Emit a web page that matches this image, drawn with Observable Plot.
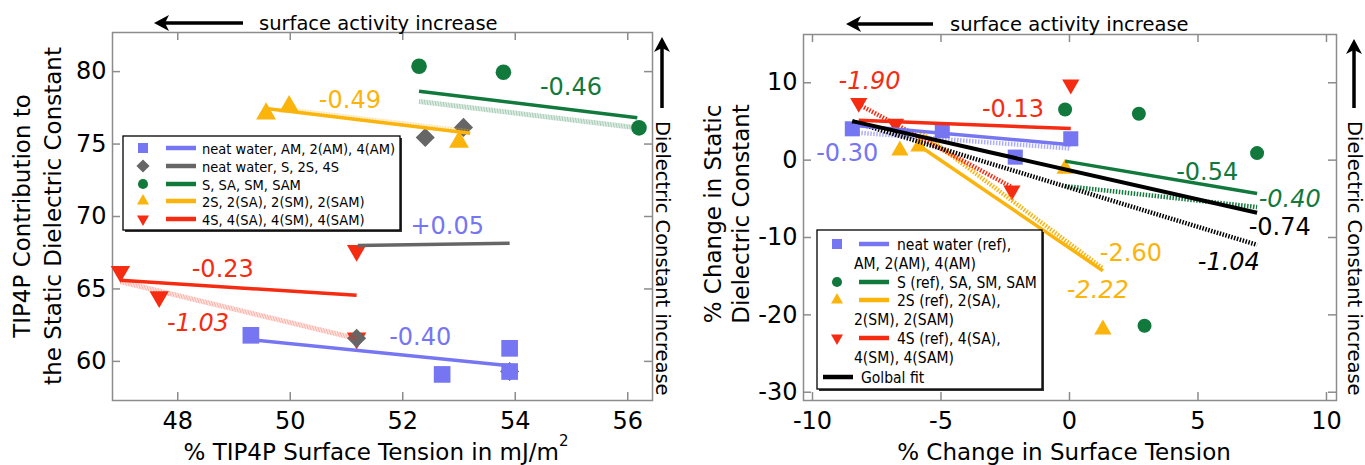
<!DOCTYPE html>
<html><head><meta charset="utf-8">
<script src="https://cdn.jsdelivr.net/npm/d3@7"></script>
<script src="https://cdn.jsdelivr.net/npm/@observablehq/plot@0.6"></script>
<style>
body{margin:0;background:#fff;}
#wrap{display:flex;width:1365px;height:465px;overflow:hidden;}
</style></head><body><div id="wrap"></div>
<script>
// ---------- DATA ----------
const xTicksL = [48, 50, 52, 54, 56];
const yTicksL = [60, 65, 70, 75, 80];
const xTicksR = [-10, -5, 0, 5, 10];
const yTicksR = [-30, -20, -10, 0, 10];

// Left panel points [surface tension, dielectric contribution]
const L_neatAM = [[49.3, 61.8], [52.7, 59.1], [53.9, 60.9], [53.9, 59.3]];
const L_neatS  = [[52.4, 75.45], [53.08, 76.15], [51.18, 61.6], [53.9, 59.3]];
const L_S      = [[52.29, 80.37], [53.79, 79.96], [56.2, 76.12]];
const L_2S     = [[49.57, 77.1], [49.98, 77.6], [53.0, 75.15]];
const L_4S     = [[46.98, 66.2], [47.67, 64.45], [51.18, 67.65], [51.18, 61.6]];

// Left panel fits [series, kind, x1, y1, x2, y2]
const L_fits = [
  ["2S", "faded", 49.98, 77.35, 53.2, 75.85],
  ["S", "faded", 52.29, 77.94, 56.17, 76.12],
  ["4S", "faded", 46.98, 65.5, 51.18, 61.57],
  ["neatAM", "solid", 49.3, 61.5, 53.9, 59.7],
  ["neatS", "solid", 51.2, 68.0, 53.9, 68.15],
  ["S", "solid", 52.29, 78.65, 56.17, 76.81],
  ["2S", "solid", 49.57, 77.45, 53.2, 75.75],
  ["4S", "solid", 46.98, 65.6, 51.18, 64.56]
];

// Left slope labels [text, series, style, x, y]
const L_labels = [
  ["-0.49", "2S", "normal", 51.06, 78.04],
  ["-0.46", "S", "normal", 54.99, 78.93],
  ["+0.05", "neatAM", "normal", 52.79, 69.35],
  ["-0.23", "4S", "normal", 48.8, 66.34],
  ["-1.03", "4S", "italic", 48.36, 62.6],
  ["-0.40", "neatAM", "normal", 52.31, 61.64]
];

// Right panel points [% change surface tension, % change dielectric]
const R_neat = [[-8.45, 4.05], [-4.95, 3.8], [-2.11, 0.39], [0.05, 2.76]];
const R_S    = [[-0.17, 6.55], [2.70, 5.99], [7.30, 0.91], [2.92, -21.4]];
const R_2S   = [[-6.6, 1.25], [-5.86, 1.75], [-0.17, -1.12], [1.30, -21.9]];
const R_4S   = [[-8.2, 7.4], [-6.77, 4.7], [-2.24, -3.92], [0.05, 9.78]];

// Right panel fits [series, kind, x1, y1, x2, y2]
const R_fits = [
  ["neat", "hatched", -8.45, 3.6, 0.05, 1.5],
  ["2S", "hatched", -5.8, 3.6, 1.3, -14.0],
  ["4S", "hatched", -8.2, 7.2, -2.24, -3.5],
  ["S", "hatched", -0.17, -3.35, 7.3, -6.07],
  ["all", "hatched", -8.45, 5.0, 7.3, -10.95],
  ["neat", "solid", -8.45, 4.5, 0.05, 2.0],
  ["4S", "solid", -8.2, 5.15, 0.05, 4.08],
  ["2S", "solid", -5.86, 1.9, 1.3, -14.3],
  ["S", "solid", -0.17, -0.13, 7.3, -4.3],
  ["all", "solid", -8.45, 5.04, 7.3, -6.8]
];

// Right slope labels [text, series, style, x, y]
const R_labels = [
  ["-1.90", "4S", "italic", -7.78, 10.2],
  ["-0.13", "4S", "normal", -2.2, 6.6],
  ["-0.30", "neat", "normal", -8.65, 0.9],
  ["-0.54", "S", "normal", 5.36, -1.55],
  ["-0.40", "S", "italic", 8.57, -5.12],
  ["-0.74", "all", "normal", 8.18, -8.74],
  ["-1.04", "all", "italic", 6.2, -13.2],
  ["-2.60", "2S", "normal", 2.39, -12.0],
  ["-2.22", "2S", "italic", 1.1, -16.85]
];

const L_legend = ["neat water, AM, 2(AM), 4(AM)", "neat water, S, 2S, 4S", "S, SA, SM, SAM",
                  "2S, 2(SA), 2(SM), 2(SAM)", "4S, 4(SA), 4(SM), 4(SAM)"];
const R_legend = [["neat water (ref),", "AM, 2(AM), 4(AM)"], ["S (ref), SA, SM, SAM"],
                  ["2S (ref), 2(SA),", "2(SM), 2(SAM)"], ["4S (ref), 4(SA),", "4(SM), 4(SAM)"], ["Golbal fit"]];

// ---------- STYLES ----------
const COL = {neatAM: "#7676f2", neat: "#7676f2", neatS: "#666666", S: "#12793d", "2S": "#fbb40c", "4S": "#f52c12", all: "#000000"};
const triDown = {draw(ctx, size) {
  const y = -Math.sqrt(size / (Math.sqrt(3) * 3));
  ctx.moveTo(0, -y * 2); ctx.lineTo(-Math.sqrt(3) * y, y); ctx.lineTo(Math.sqrt(3) * y, y); ctx.closePath();
}};
const H = 465;
const AX = "#8c8c8c";
const FONT = "DejaVu Sans";
const COND = "DejaVu Sans Condensed";

function panel(cfg) {
  const fw = cfg.width - cfg.ml - cfg.mr, fh = H - cfg.mt - cfg.mb;
  const tk = 8;
  return Plot.plot({
    width: cfg.width, height: H,
    marginLeft: cfg.ml, marginRight: cfg.mr, marginTop: cfg.mt, marginBottom: cfg.mb,
    style: {fontFamily: FONT, fontSize: "24px", background: "white", color: "black", overflow: "visible"},
    x: {domain: cfg.xDomain, ticks: cfg.xTicks, tickSize: 0, tickPadding: 11, label: null, tickFormat: d => String(d)},
    y: {domain: cfg.yDomain, ticks: cfg.yTicks, tickSize: 0, tickPadding: 6, label: null, tickFormat: d => String(d)},
    marks: [
      Plot.tickX(cfg.xTicks, {x: d => d, insetTop: fh - tk, stroke: AX, strokeWidth: 1.5}),
      Plot.tickX(cfg.xTicks, {x: d => d, insetBottom: fh - tk, stroke: AX, strokeWidth: 1.5}),
      Plot.tickY(cfg.yTicks, {y: d => d, insetRight: fw - tk, stroke: AX, strokeWidth: 1.5}),
      Plot.tickY(cfg.yTicks, {y: d => d, insetLeft: fw - tk, stroke: AX, strokeWidth: 1.5}),
      Plot.frame({stroke: AX, strokeWidth: 1.5}),
      ...cfg.marks
    ]
  });
}

function dots(data, symbol, r, key) {
  return Plot.dot(data, {x: d => d[0], y: d => d[1], symbol, r, fill: COL[key], stroke: "none"});
}
function fitMarks(fits) {
  return fits.map(f => {
    const base = {x1: d => d[2], y1: d => d[3], x2: d => d[4], y2: d => d[5], stroke: COL[f[0]], strokeLinecap: "butt"};
    if (f[1] === "solid") return Plot.link([f], {...base, strokeWidth: f[0] === "all" ? 4 : 3.5});
    if (f[1] === "faded") return Plot.link([f], {...base, strokeWidth: 5, strokeOpacity: 0.38, strokeDasharray: "1,0.6"});
    return Plot.link([f], {...base, strokeWidth: 4.5, strokeDasharray: "1.5,1.5", strokeOpacity: f[0] === "neat" ? 0.6 : 1});
  });
}
function labelMarks(labels) {
  return labels.map(l => Plot.text([l], {x: d => d[3], y: d => d[4], text: d => d[0], fill: COL[l[1]],
    fontSize: 24, fontStyle: l[2], fontFamily: FONT}));
}

// ---------- LEFT PANEL ----------
const left = panel({
  width: 680, ml: 112, mr: 28, mt: 32, mb: 65,
  xDomain: [46.84, 56.44], yDomain: [57.3, 82.7], xTicks: xTicksL, yTicks: yTicksL,
  marks: [
    dots(L_4S, triDown, 7.2, "4S"),
    dots(L_neatS, "diamond2", 8.6, "neatS"),
    dots(L_S, "circle", 7.8, "S"),
    dots(L_2S, "triangle", 7.4, "2S"),
    dots(L_neatAM, "square", 9.4, "neatAM"),
    ...fitMarks(L_fits),
    ...labelMarks(L_labels)
  ]
});

// ---------- RIGHT PANEL ----------
const right = panel({
  width: 685, ml: 123, mr: 29, mt: 34, mb: 65,
  xDomain: [-10.35, 10.39], yDomain: [-31.07, 16.24], xTicks: xTicksR, yTicks: yTicksR,
  marks: [
    dots(R_neat, "square", 8.5, "neat"),
    dots(R_S, "circle", 7, "S"),
    dots(R_2S, "triangle", 6.4, "2S"),
    dots(R_4S, triDown, 6.4, "4S"),
    ...fitMarks(R_fits),
    ...labelMarks(R_labels)
  ]
});

document.getElementById("wrap").append(left, right);

// ---------- DECORATIONS ----------
function hArrow(svg, xTail, xTip, y) {
  svg.append("line").attr("x1", xTail).attr("x2", xTip + 10).attr("y1", y).attr("y2", y)
    .attr("stroke", "#000").attr("stroke-width", 3.5);
  svg.append("path").attr("d", `M${xTip},${y} L${xTip + 15},${y - 8} L${xTip + 11},${y} L${xTip + 15},${y + 8} Z`).attr("fill", "#000");
}
function vArrow(svg, x, yTail, yTip) {
  svg.append("line").attr("x1", x).attr("x2", x).attr("y1", yTail).attr("y2", yTip + 10)
    .attr("stroke", "#000").attr("stroke-width", 3.5);
  svg.append("path").attr("d", `M${x},${yTip} L${x - 8},${yTip + 15} L${x},${yTip + 11} L${x + 8},${yTip + 15} Z`).attr("fill", "#000");
}
function txt(svg, s, x, y, opts = {}) {
  const t = svg.append("text").attr("x", x).attr("y", y).text(s)
    .attr("font-family", opts.family || FONT).attr("font-size", opts.size || 23)
    .attr("fill", opts.fill || "#000").attr("text-anchor", opts.anchor || "start")
    .attr("dominant-baseline", opts.baseline || "central");
  if (opts.rotate) t.attr("transform", `rotate(${opts.rotate},${x},${y})`);
  return t;
}
function decorate(svgEl, c) {
  const svg = d3.select(svgEl);
  hArrow(svg, c.arrowX2, c.arrowX1, c.arrowY);
  txt(svg, "surface activity increase", c.topTextX, c.arrowY, {size: 19.5});
  vArrow(svg, c.sideX, 108, c.sideTip);
  txt(svg, "Dielectric Constant increase", c.sideX, 121, {size: 19.5, rotate: 90});
  const xt = txt(svg, c.xTitle, c.xTitleX, 452, {anchor: "middle"});
  if (c.sup) xt.append("tspan").attr("dy", -11).attr("font-size", 15).text(c.sup);
  txt(svg, c.yTitle[0], c.yTitleX[0], c.yMid, {anchor: "middle", rotate: -90});
  txt(svg, c.yTitle[1], c.yTitleX[1], c.yMid, {anchor: "middle", rotate: -90});
}

decorate(left, {arrowX1: 154, arrowX2: 243, arrowY: 23, topTextX: 259, sideX: 662, sideTip: 37,
  xTitle: "% TIP4P Surface Tension in mJ/m", sup: "2", xTitleX: 376,
  yTitle: ["TIP4P Contribution to", "the Static Dielectric Constant"], yTitleX: [22, 53], yMid: 216});
decorate(right, {arrowX1: 166, arrowX2: 253, arrowY: 24, topTextX: 270, sideX: 674, sideTip: 39,
  xTitle: "% Change in Surface Tension", xTitleX: 384,
  yTitle: ["% Change in Static", "Dielectric Constant"], yTitleX: [33, 61], yMid: 214});

// ---------- LEGENDS ----------
function legendBox(svg, x0, y0, x1, y1) {
  svg.append("rect").attr("x", x0 + 2).attr("y", y0 + 2).attr("width", x1 - x0).attr("height", y1 - y0).attr("fill", "#333");
  svg.append("rect").attr("x", x0).attr("y", y0).attr("width", x1 - x0).attr("height", y1 - y0)
    .attr("fill", "#fff").attr("stroke", "#000").attr("stroke-width", 1.3);
}
function legSym(svg, type, size, key, x, y) {
  svg.append("path").attr("d", d3.symbol(type, size)()).attr("transform", `translate(${x},${y})`).attr("fill", COL[key]);
}
function legLine(svg, key, x0, x1, y) {
  svg.append("line").attr("x1", x0).attr("x2", x1).attr("y1", y).attr("y2", y).attr("stroke", COL[key]).attr("stroke-width", 4.5);
}
{
  const svg = d3.select(left);
  legendBox(svg, 123, 136, 400, 230);
  const rows = [148, 166, 184, 201, 219];
  const syms = [[d3.symbolSquare, 100, "neatAM"], [d3.symbolDiamond2, 110, "neatS"], [d3.symbolCircle, 80, "S"],
                [d3.symbolTriangle, 62, "2S"], [triDown, 62, "4S"]];
  rows.forEach((y, i) => {
    legSym(svg, syms[i][0], syms[i][1], syms[i][2], 143, y);
    legLine(svg, syms[i][2], 166, 196, y);
    txt(svg, L_legend[i], 202, y + 1, {family: COND, size: 14.5});
  });
}
{
  const svg = d3.select(right);
  legendBox(svg, 137, 230, 362, 389);
  const items = [[d3.symbolSquare, 100, "neat", 244], [d3.symbolCircle, 80, "S", 282],
                 [d3.symbolTriangle, 62, "2S", 300], [triDown, 62, "4S", 338]];
  items.forEach((it, i) => {
    legSym(svg, it[0], it[1], it[2], 157, it[3]);
    legLine(svg, it[2], 179, 209, it[3]);
    txt(svg, R_legend[i][0], 217, it[3] + 1, {family: COND, size: 15.5});
    if (R_legend[i][1]) txt(svg, R_legend[i][1], 174, it[3] + 20, {family: COND, size: 15.5});
  });
  legLine(svg, "all", 143, 173, 377);
  txt(svg, R_legend[4][0], 181, 378, {family: COND, size: 15.5});
}
</script></body></html>
